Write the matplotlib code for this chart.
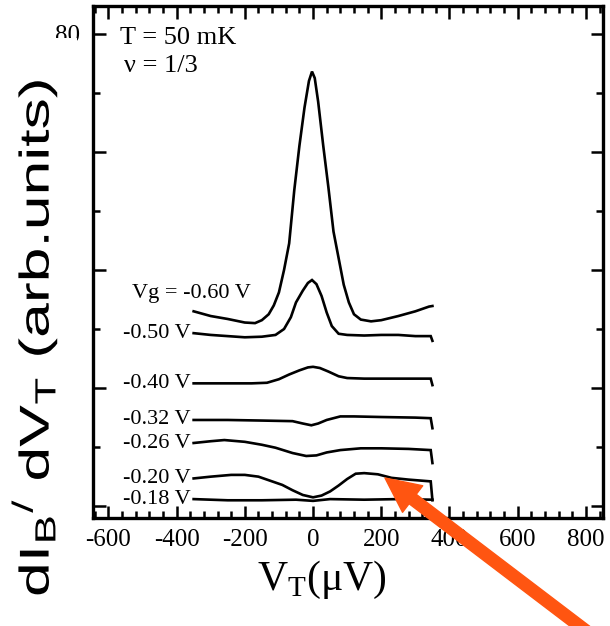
import numpy as np
import matplotlib
matplotlib.use("Agg")
import matplotlib.pyplot as plt
from matplotlib.ticker import MultipleLocator
from matplotlib.patches import FancyArrowPatch, Rectangle
from matplotlib.patheffects import AbstractPathEffect
from matplotlib.transforms import Affine2D

plt.rcParams['axes.unicode_minus'] = False
plt.rcParams['font.family'] = ['Liberation Serif', 'DejaVu Serif']

# differential conductance traces, V_T in uV, signal in arb. units
gate_labels = ["Vg = -0.60 V", "-0.50 V", "-0.40 V", "-0.32 V", "-0.26 V", "-0.20 V", "-0.18 V"]

vt_060 = [-350, -300, -250, -200, -170, -150, -130, -115, -100, -85, -70, -55, -40, -25, -12, -3,
          5, 15, 30, 45, 60, 75, 90, 105, 120, 140, 170, 200, 250, 300, 340, 350]
g_060 = [33.0, 32.2, 31.7, 31.1, 31.0, 31.5, 32.5, 34.0, 36.2, 40.0, 44.5, 53.5, 61.0, 67.5, 72.0, 73.6,
         72.5, 68.5, 61.0, 54.0, 46.5, 42.0, 37.5, 34.5, 32.5, 31.6, 31.3, 31.5, 32.2, 33.0, 33.8, 33.9]

vt_050 = [-350, -300, -250, -200, -150, -110, -85, -65, -50, -30, -15, -3, 10, 25, 40, 55, 75, 100,
          150, 200, 250, 300, 345, 350]
g_050 = [29.3, 29.0, 28.8, 28.6, 28.7, 29.0, 30.0, 32.0, 34.5, 36.5, 37.8, 38.3, 37.6, 35.6, 32.8, 30.5,
         29.2, 29.0, 28.9, 29.0, 29.0, 28.8, 28.8, 28.0]

vt_040 = [-350, -250, -180, -135, -100, -70, -40, -15, 0, 20, 45, 75, 100, 150, 200, 300, 345, 350]
g_040 = [20.8, 20.8, 20.8, 20.9, 21.5, 22.3, 23.0, 23.5, 23.6, 23.4, 22.8, 22.0, 21.7, 21.6, 21.6, 21.6,
         21.6, 20.5]

vt_032 = [-350, -250, -150, -60, -30, -5, 15, 40, 80, 120, 200, 300, 345, 350]
g_032 = [14.6, 14.6, 14.5, 14.4, 14.0, 13.7, 14.0, 14.6, 15.2, 15.2, 15.1, 15.0, 14.9, 13.2]

vt_026 = [-350, -300, -260, -200, -150, -110, -60, -20, 10, 40, 80, 140, 200, 280, 345, 350]
g_026 = [10.7, 11.0, 11.2, 10.9, 10.4, 9.9, 9.0, 8.5, 8.6, 9.1, 9.5, 9.8, 9.8, 9.7, 9.5, 7.3]

vt_020 = [-350, -300, -240, -200, -160, -120, -90, -60, -30, 0, 25, 50, 75, 100, 125, 150, 190, 230,
          280, 345, 350]
g_020 = [4.7, 5.0, 5.3, 5.3, 5.0, 4.2, 3.6, 2.7, 1.9, 1.5, 1.8, 2.5, 3.5, 4.6, 5.5, 5.6, 5.4, 4.8,
         4.5, 4.2, 1.0]

vt_018 = [-350, -250, -150, -50, 0, 50, 150, 250, 350]
g_018 = [1.2, 1.0, 1.0, 1.1, 0.9, 1.2, 1.1, 1.2, 1.1]

traces = [(vt_060, g_060), (vt_050, g_050), (vt_040, g_040), (vt_032, g_032),
          (vt_026, g_026), (vt_020, g_020), (vt_018, g_018)]

y_ticks = [0, 20, 40, 60, 80]
y_ticklabels = ["", "", "", "", "80"]


class Stretch(AbstractPathEffect):
    """Widen glyphs along the baseline."""

    def __init__(self, sx):
        super().__init__()
        self._scale = Affine2D().scale(sx, 1.0)

    def draw_path(self, renderer, gc, tpath, affine, rgbFace=None):
        renderer.draw_path(gc, tpath, self._scale + affine, rgbFace)


W, H = 610, 626
fig = plt.figure(figsize=(W / 100, H / 100), dpi=100)
ax = fig.add_axes([93 / W, 1 - 518 / H, 510 / W, 512 / H])

for vt, g in traces:
    ax.plot(vt, g, color='black', lw=1.9, solid_joinstyle='miter')

# gate voltage labels next to each trace
ax.text(-530, g_060[0] + 3.1, gate_labels[0], fontsize=16, ha='left', va='center')
for lab, (vt, g) in zip(gate_labels[1:], traces[1:]):
    ax.text(vt[0] - 8, g[0], lab, fontsize=16, ha='right', va='center')

ax.text(-565, 78.2, "T = 50 mK", fontsize=19, ha='left', va='baseline')
ax.text(-555, 73.6, "ν = 1/3", fontsize=19, ha='left', va='baseline')

ax.set_xlim(-645, 850)
ax.set_ylim(-2.0, 84.7)
ax.xaxis.set_major_locator(MultipleLocator(200))
ax.xaxis.set_minor_locator(MultipleLocator(40))
ax.set_yticks(y_ticks)
ax.set_yticklabels(y_ticklabels)
ax.yaxis.set_minor_locator(MultipleLocator(10))
ax.tick_params(which='both', direction='in', top=True, right=True, width=1.8, labelsize=18)
ax.tick_params(which='major', length=9)
ax.tick_params(which='minor', length=5)
ax.tick_params(axis='x', pad=8)
ax.tick_params(axis='y', pad=9)
for s in ax.spines.values():
    s.set_linewidth(2.4)

ax.set_xlabel(r'V$_\mathregular{T}$(μV)', fontsize=30, labelpad=4)
ax.xaxis.set_label_coords((322 - 93) / 510, -0.08)

# blank strip over the left tick labels, y label sits on top of it
fig.add_artist(Rectangle((0, 0), 77 / W, 1 - 38 / H, transform=fig.transFigure,
                         facecolor='white', edgecolor='none', zorder=1))
fig.text(49 / W, 1 - 597 / H,
         r'dI$_\mathregular{B}$$^\mathregular{/}$ dV$_\mathregular{T}$ (arb.units)',
         rotation=90, rotation_mode='anchor', ha='left', va='baseline', fontsize=30,
         family=['Liberation Sans', 'DejaVu Sans'], zorder=3,
         path_effects=[Stretch(1.5)])

arrow = FancyArrowPatch((598 / W, -14 / H), (385 / W, 1 - 478 / H), transform=fig.transFigure,
                        arrowstyle='simple,head_length=25,head_width=24,tail_width=8.5',
                        mutation_scale=1, shrinkA=0, shrinkB=0, color='#ff5511', zorder=5)
fig.add_artist(arrow)

fig.savefig("out.png", dpi=100)
